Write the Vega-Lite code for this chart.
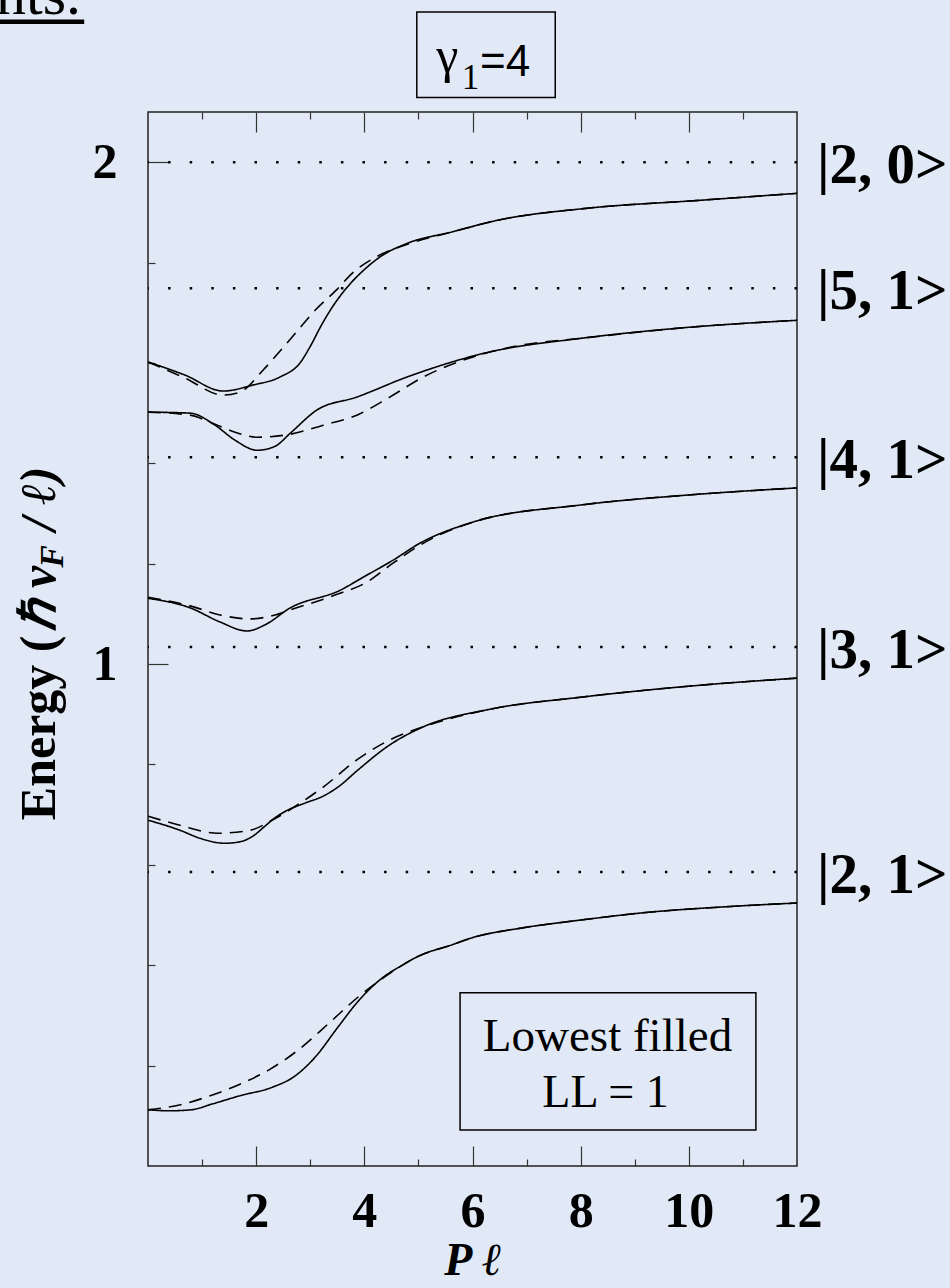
{
  "$schema": "https://vega.github.io/schema/vega-lite/v6.json",
  "autosize": {"type": "none"},
  "padding": {"left": 148, "top": 112, "right": 153, "bottom": 122},
  "width": 649,
  "height": 1054,
  "background": "#e0e9f5",
  "config": {
    "view": {"stroke": "#222", "strokeWidth": 1.5},
    "axis": {"grid": false, "domain": false, "tickColor": "#333", "tickWidth": 1.2}
  },
  "datasets": {
    "curves": [
      {"curve": "s1", "style": "solid", "x": 0, "y": 0.112},
      {"curve": "s1", "style": "solid", "x": 0.4, "y": 0.110},
      {"curve": "s1", "style": "solid", "x": 0.8, "y": 0.112},
      {"curve": "s1", "style": "solid", "x": 1.2, "y": 0.124},
      {"curve": "s1", "style": "solid", "x": 1.7, "y": 0.140},
      {"curve": "s1", "style": "solid", "x": 2.3, "y": 0.157},
      {"curve": "s1", "style": "solid", "x": 2.7, "y": 0.178},
      {"curve": "s1", "style": "solid", "x": 3.1, "y": 0.218},
      {"curve": "s1", "style": "solid", "x": 3.5, "y": 0.275},
      {"curve": "s1", "style": "solid", "x": 3.9, "y": 0.330},
      {"curve": "s1", "style": "solid", "x": 4.3, "y": 0.372},
      {"curve": "s1", "style": "solid", "x": 4.7, "y": 0.400},
      {"curve": "s1", "style": "solid", "x": 5.0, "y": 0.418},
      {"curve": "s1", "style": "solid", "x": 5.6, "y": 0.440},
      {"curve": "s1", "style": "solid", "x": 6.0, "y": 0.455},
      {"curve": "s1", "style": "solid", "x": 6.9, "y": 0.474},
      {"curve": "s1", "style": "solid", "x": 8.0, "y": 0.490},
      {"curve": "s1", "style": "solid", "x": 9.3, "y": 0.506},
      {"curve": "s1", "style": "solid", "x": 10.6, "y": 0.516},
      {"curve": "s1", "style": "solid", "x": 12, "y": 0.524},
      {"curve": "d1", "style": "dashed", "x": 0, "y": 0.112},
      {"curve": "d1", "style": "dashed", "x": 0.6, "y": 0.122},
      {"curve": "d1", "style": "dashed", "x": 1.15, "y": 0.140},
      {"curve": "d1", "style": "dashed", "x": 1.7, "y": 0.163},
      {"curve": "d1", "style": "dashed", "x": 2.26, "y": 0.193},
      {"curve": "d1", "style": "dashed", "x": 2.8, "y": 0.233},
      {"curve": "d1", "style": "dashed", "x": 3.35, "y": 0.285},
      {"curve": "d1", "style": "dashed", "x": 3.9, "y": 0.338},
      {"curve": "d1", "style": "dashed", "x": 4.5, "y": 0.386},
      {"curve": "d1", "style": "dashed", "x": 5.0, "y": 0.418},
      {"curve": "d1", "style": "dashed", "x": 5.6, "y": 0.440},
      {"curve": "d1", "style": "dashed", "x": 6.0, "y": 0.455},
      {"curve": "d1", "style": "dashed", "x": 6.9, "y": 0.474},
      {"curve": "d1", "style": "dashed", "x": 8.0, "y": 0.490},
      {"curve": "d1", "style": "dashed", "x": 9.3, "y": 0.506},
      {"curve": "d1", "style": "dashed", "x": 10.6, "y": 0.516},
      {"curve": "d1", "style": "dashed", "x": 12, "y": 0.524},
      {"curve": "s2", "style": "solid", "x": 0, "y": 0.689},
      {"curve": "s2", "style": "solid", "x": 0.59, "y": 0.669},
      {"curve": "s2", "style": "solid", "x": 0.96, "y": 0.653},
      {"curve": "s2", "style": "solid", "x": 1.42, "y": 0.643},
      {"curve": "s2", "style": "solid", "x": 1.7, "y": 0.646},
      {"curve": "s2", "style": "solid", "x": 1.95, "y": 0.658},
      {"curve": "s2", "style": "solid", "x": 2.15, "y": 0.676},
      {"curve": "s2", "style": "solid", "x": 2.35, "y": 0.694},
      {"curve": "s2", "style": "solid", "x": 2.6, "y": 0.710},
      {"curve": "s2", "style": "solid", "x": 2.9, "y": 0.723},
      {"curve": "s2", "style": "solid", "x": 3.24, "y": 0.737},
      {"curve": "s2", "style": "solid", "x": 3.55, "y": 0.758},
      {"curve": "s2", "style": "solid", "x": 3.86, "y": 0.787},
      {"curve": "s2", "style": "solid", "x": 4.47, "y": 0.839},
      {"curve": "s2", "style": "solid", "x": 5.09, "y": 0.875},
      {"curve": "s2", "style": "solid", "x": 6.32, "y": 0.910},
      {"curve": "s2", "style": "solid", "x": 8.0, "y": 0.934},
      {"curve": "s2", "style": "solid", "x": 10.0, "y": 0.956},
      {"curve": "s2", "style": "solid", "x": 12, "y": 0.972},
      {"curve": "d2", "style": "dashed", "x": 0, "y": 0.697},
      {"curve": "d2", "style": "dashed", "x": 0.59, "y": 0.679},
      {"curve": "d2", "style": "dashed", "x": 1.29, "y": 0.663},
      {"curve": "d2", "style": "dashed", "x": 1.89, "y": 0.669},
      {"curve": "d2", "style": "dashed", "x": 2.31, "y": 0.690},
      {"curve": "d2", "style": "dashed", "x": 2.8, "y": 0.722},
      {"curve": "d2", "style": "dashed", "x": 3.24, "y": 0.755},
      {"curve": "d2", "style": "dashed", "x": 3.86, "y": 0.809},
      {"curve": "d2", "style": "dashed", "x": 4.47, "y": 0.849},
      {"curve": "d2", "style": "dashed", "x": 5.09, "y": 0.875},
      {"curve": "d2", "style": "dashed", "x": 6.32, "y": 0.910},
      {"curve": "d2", "style": "dashed", "x": 8.0, "y": 0.934},
      {"curve": "d2", "style": "dashed", "x": 10.0, "y": 0.956},
      {"curve": "d2", "style": "dashed", "x": 12, "y": 0.972},
      {"curve": "s3", "style": "solid", "x": 0, "y": 1.131},
      {"curve": "s3", "style": "solid", "x": 0.78, "y": 1.112},
      {"curve": "s3", "style": "solid", "x": 1.33, "y": 1.084},
      {"curve": "s3", "style": "solid", "x": 1.83, "y": 1.066},
      {"curve": "s3", "style": "solid", "x": 2.16, "y": 1.078},
      {"curve": "s3", "style": "solid", "x": 2.63, "y": 1.112},
      {"curve": "s3", "style": "solid", "x": 3.55, "y": 1.147},
      {"curve": "s3", "style": "solid", "x": 4.01, "y": 1.175},
      {"curve": "s3", "style": "solid", "x": 4.53, "y": 1.207},
      {"curve": "s3", "style": "solid", "x": 5.03, "y": 1.241},
      {"curve": "s3", "style": "solid", "x": 6.01, "y": 1.283},
      {"curve": "s3", "style": "solid", "x": 8.0, "y": 1.317},
      {"curve": "s3", "style": "solid", "x": 10.0, "y": 1.337},
      {"curve": "s3", "style": "solid", "x": 12, "y": 1.351},
      {"curve": "d3", "style": "dashed", "x": 0, "y": 1.133},
      {"curve": "d3", "style": "dashed", "x": 0.78, "y": 1.116},
      {"curve": "d3", "style": "dashed", "x": 1.33, "y": 1.098},
      {"curve": "d3", "style": "dashed", "x": 1.89, "y": 1.090},
      {"curve": "d3", "style": "dashed", "x": 2.35, "y": 1.098},
      {"curve": "d3", "style": "dashed", "x": 2.63, "y": 1.108},
      {"curve": "d3", "style": "dashed", "x": 3.55, "y": 1.141},
      {"curve": "d3", "style": "dashed", "x": 4.01, "y": 1.161},
      {"curve": "d3", "style": "dashed", "x": 4.53, "y": 1.201},
      {"curve": "d3", "style": "dashed", "x": 5.03, "y": 1.237},
      {"curve": "d3", "style": "dashed", "x": 6.01, "y": 1.283},
      {"curve": "d3", "style": "dashed", "x": 8.0, "y": 1.317},
      {"curve": "d3", "style": "dashed", "x": 10.0, "y": 1.337},
      {"curve": "d3", "style": "dashed", "x": 12, "y": 1.351},
      {"curve": "s4", "style": "solid", "x": 0, "y": 1.502},
      {"curve": "s4", "style": "solid", "x": 0.78, "y": 1.500},
      {"curve": "s4", "style": "solid", "x": 1.24, "y": 1.476},
      {"curve": "s4", "style": "solid", "x": 1.61, "y": 1.446},
      {"curve": "s4", "style": "solid", "x": 2.02, "y": 1.426},
      {"curve": "s4", "style": "solid", "x": 2.35, "y": 1.434},
      {"curve": "s4", "style": "solid", "x": 2.63, "y": 1.460},
      {"curve": "s4", "style": "solid", "x": 3.12, "y": 1.506},
      {"curve": "s4", "style": "solid", "x": 3.86, "y": 1.532},
      {"curve": "s4", "style": "solid", "x": 4.79, "y": 1.572},
      {"curve": "s4", "style": "solid", "x": 6.32, "y": 1.622},
      {"curve": "s4", "style": "solid", "x": 8.0, "y": 1.649},
      {"curve": "s4", "style": "solid", "x": 10.0, "y": 1.671},
      {"curve": "s4", "style": "solid", "x": 12, "y": 1.685},
      {"curve": "d4", "style": "dashed", "x": 0, "y": 1.502},
      {"curve": "d4", "style": "dashed", "x": 0.78, "y": 1.496},
      {"curve": "d4", "style": "dashed", "x": 1.15, "y": 1.482},
      {"curve": "d4", "style": "dashed", "x": 1.61, "y": 1.462},
      {"curve": "d4", "style": "dashed", "x": 2.02, "y": 1.452},
      {"curve": "d4", "style": "dashed", "x": 2.63, "y": 1.458},
      {"curve": "d4", "style": "dashed", "x": 3.24, "y": 1.476},
      {"curve": "d4", "style": "dashed", "x": 3.86, "y": 1.496},
      {"curve": "d4", "style": "dashed", "x": 4.47, "y": 1.532},
      {"curve": "d4", "style": "dashed", "x": 5.09, "y": 1.572},
      {"curve": "d4", "style": "dashed", "x": 6.01, "y": 1.612},
      {"curve": "d4", "style": "dashed", "x": 6.88, "y": 1.635},
      {"curve": "d4", "style": "dashed", "x": 8.0, "y": 1.649},
      {"curve": "d4", "style": "dashed", "x": 10.0, "y": 1.671},
      {"curve": "d4", "style": "dashed", "x": 12, "y": 1.685},
      {"curve": "s5", "style": "solid", "x": 0, "y": 1.602},
      {"curve": "s5", "style": "solid", "x": 0.68, "y": 1.576},
      {"curve": "s5", "style": "solid", "x": 1.39, "y": 1.544},
      {"curve": "s5", "style": "solid", "x": 1.94, "y": 1.556},
      {"curve": "s5", "style": "solid", "x": 2.44, "y": 1.572},
      {"curve": "s5", "style": "solid", "x": 2.81, "y": 1.600},
      {"curve": "s5", "style": "solid", "x": 3.0, "y": 1.633},
      {"curve": "s5", "style": "solid", "x": 3.2, "y": 1.674},
      {"curve": "s5", "style": "solid", "x": 3.4, "y": 1.710},
      {"curve": "s5", "style": "solid", "x": 3.6, "y": 1.740},
      {"curve": "s5", "style": "solid", "x": 3.8, "y": 1.765},
      {"curve": "s5", "style": "solid", "x": 4.0, "y": 1.786},
      {"curve": "s5", "style": "solid", "x": 4.3, "y": 1.812},
      {"curve": "s5", "style": "solid", "x": 4.81, "y": 1.839},
      {"curve": "s5", "style": "solid", "x": 5.62, "y": 1.861},
      {"curve": "s5", "style": "solid", "x": 6.45, "y": 1.884},
      {"curve": "s5", "style": "solid", "x": 8.1, "y": 1.908},
      {"curve": "s5", "style": "solid", "x": 10.2, "y": 1.924},
      {"curve": "s5", "style": "solid", "x": 12, "y": 1.938},
      {"curve": "d5", "style": "dashed", "x": 0, "y": 1.602},
      {"curve": "d5", "style": "dashed", "x": 0.68, "y": 1.570},
      {"curve": "d5", "style": "dashed", "x": 1.39, "y": 1.536},
      {"curve": "d5", "style": "dashed", "x": 1.70, "y": 1.542},
      {"curve": "d5", "style": "dashed", "x": 2.13, "y": 1.586},
      {"curve": "d5", "style": "dashed", "x": 2.5, "y": 1.631},
      {"curve": "d5", "style": "dashed", "x": 2.74, "y": 1.661},
      {"curve": "d5", "style": "dashed", "x": 3.09, "y": 1.705},
      {"curve": "d5", "style": "dashed", "x": 3.48, "y": 1.745},
      {"curve": "d5", "style": "dashed", "x": 3.81, "y": 1.782},
      {"curve": "d5", "style": "dashed", "x": 4.23, "y": 1.812},
      {"curve": "d5", "style": "dashed", "x": 4.81, "y": 1.837},
      {"curve": "d5", "style": "dashed", "x": 5.62, "y": 1.861},
      {"curve": "d5", "style": "dashed", "x": 6.45, "y": 1.884},
      {"curve": "d5", "style": "dashed", "x": 8.1, "y": 1.908},
      {"curve": "d5", "style": "dashed", "x": 10.2, "y": 1.924},
      {"curve": "d5", "style": "dashed", "x": 12, "y": 1.938}
    ],
    "levels": [
      {"E": 2.0, "label": "|2, 0>"},
      {"E": 1.749, "label": "|5, 1>"},
      {"E": 1.412, "label": "|4, 1>"},
      {"E": 1.034, "label": "|3, 1>"},
      {"E": 0.586, "label": "|2, 1>"}
    ]
  },
  "resolve": {"axis": {"x": "independent", "y": "independent"}},
  "layer": [
    {
      "data": {"name": "curves"},
      "mark": {"type": "line", "interpolate": "monotone", "strokeWidth": 1.6, "color": "black"},
      "encoding": {
        "x": {"field": "x", "type": "quantitative",
          "scale": {"domain": [0, 12], "nice": false, "zero": false},
          "axis": {"orient": "bottom", "values": [2, 4, 6, 8, 10, 12], "ticks": false, "domain": false, "grid": false,
            "labelFont": "Liberation Serif", "labelFontWeight": "bold", "labelFontSize": 50, "labelColor": "black",
            "labelPadding": 60, "labelBaseline": "alphabetic", "labelFlush": false, "labelOverlap": false,
            "title": "P  ℓ", "titleFont": "Liberation Serif", "titleFontStyle": "italic", "titleFontWeight": "bold",
            "titleFontSize": 46, "titleColor": "black", "titlePadding": 2}},
        "y": {"field": "y", "type": "quantitative",
          "scale": {"domain": [0, 2.1], "nice": false, "zero": false},
          "axis": {"orient": "left", "values": [1, 2], "ticks": false, "domain": false, "grid": false,
            "labelFont": "Liberation Serif", "labelFontWeight": "bold", "labelFontSize": 50, "labelColor": "black",
            "labelPadding": 31, "labelFlush": false, "labelOverlap": false, "title": null}},
        "detail": {"field": "curve", "type": "nominal"},
        "strokeDash": {"field": "style", "type": "nominal",
          "scale": {"domain": ["solid", "dashed"], "range": [[1, 0], [13, 8]]}, "legend": null}
      }
    },
    {
      "data": {"name": "levels"},
      "mark": {"type": "rule", "color": "black", "strokeWidth": 2.5, "strokeDash": [2.5, 19.1]},
      "encoding": {
        "y": {"field": "E", "type": "quantitative",
          "axis": {"orient": "left", "values": [0.2, 0.4, 0.6, 0.8, 1.2, 1.4, 1.6, 1.8], "labels": false,
            "ticks": true, "tickSize": -7, "domain": false, "title": null}}
      }
    },
    {
      "data": {"name": "levels"},
      "mark": {"type": "text", "font": "Liberation Serif", "fontWeight": "bold", "fontSize": 57,
        "align": "left", "baseline": "alphabetic", "dx": 20, "dy": 21, "color": "black"},
      "encoding": {
        "x": {"datum": 12, "type": "quantitative",
          "axis": {"orient": "bottom", "values": [1, 3, 5, 7, 9, 11], "labels": false, "ticks": true,
            "tickSize": -7, "domain": false, "title": null}},
        "y": {"field": "E", "type": "quantitative",
          "axis": {"orient": "left", "values": [1, 2], "labels": false, "ticks": true,
            "tickSize": -20, "domain": false, "title": null}},
        "text": {"field": "label"}
      }
    },
    {
      "data": {"values": [{}]},
      "mark": {"type": "rect", "fill": "transparent", "stroke": "black", "strokeWidth": 1.5},
      "encoding": {
        "x": {"datum": 4.97, "type": "quantitative",
          "axis": {"orient": "top", "values": [2, 4, 6, 8, 10], "labels": false, "ticks": true,
            "tickSize": -20, "domain": false, "title": null}},
        "x2": {"datum": 7.53},
        "y": {"datum": 2.299, "type": "quantitative", "axis": null},
        "y2": {"datum": 2.129}
      }
    },
    {
      "data": {"values": [{}]},
      "mark": {"type": "text", "font": "Liberation Serif", "fontSize": 50, "align": "left",
        "baseline": "alphabetic", "color": "black", "text": "γ"},
      "encoding": {
        "x": {"datum": 5.33, "type": "quantitative",
          "axis": {"orient": "top", "values": [1, 3, 5, 7, 9, 11], "labels": false, "ticks": true,
            "tickSize": -7, "domain": false, "title": null}},
        "y": {"datum": 2.179, "type": "quantitative", "axis": null}
      }
    },
    {
      "data": {"values": [{}]},
      "mark": {"type": "text", "font": "Liberation Serif", "fontSize": 35, "align": "left",
        "baseline": "alphabetic", "color": "black", "text": "1"},
      "encoding": {
        "x": {"datum": 5.80, "type": "quantitative", "axis": null},
        "y": {"datum": 2.145, "type": "quantitative", "axis": null}
      }
    },
    {
      "data": {"values": [{}]},
      "mark": {"type": "text", "font": "Liberation Sans", "fontSize": 44, "align": "left",
        "baseline": "alphabetic", "color": "black", "text": "=4"},
      "encoding": {
        "x": {"datum": 6.14, "type": "quantitative", "axis": null},
        "y": {"datum": 2.171, "type": "quantitative", "axis": null}
      }
    },
    {
      "data": {"values": [{}]},
      "mark": {"type": "rect", "fill": "transparent", "stroke": "black", "strokeWidth": 1.5},
      "encoding": {
        "x": {"datum": 5.77, "type": "quantitative",
          "axis": {"orient": "bottom", "values": [2, 4, 6, 8, 10], "labels": false, "ticks": true,
            "tickSize": -20, "domain": false, "title": null}},
        "x2": {"datum": 11.24},
        "y": {"datum": 0.345, "type": "quantitative", "axis": null},
        "y2": {"datum": 0.0717}
      }
    },
    {
      "data": {"values": [{}]},
      "mark": {"type": "text", "font": "Liberation Serif", "fontSize": 47, "align": "center",
        "baseline": "alphabetic", "color": "black", "text": "Lowest filled"},
      "encoding": {
        "x": {"datum": 8.496, "type": "quantitative", "axis": null},
        "y": {"datum": 0.2297, "type": "quantitative", "axis": null}
      }
    },
    {
      "data": {"values": [{}]},
      "mark": {"type": "text", "font": "Liberation Serif", "fontSize": 46, "align": "center",
        "baseline": "alphabetic", "color": "black", "text": "LL = 1"},
      "encoding": {
        "x": {"datum": 8.46, "type": "quantitative", "axis": null},
        "y": {"datum": 0.118, "type": "quantitative", "axis": null}
      }
    },
    {
      "data": {"values": [{}]},
      "mark": {"type": "text", "font": "Liberation Serif", "fontSize": 60, "align": "right",
        "baseline": "alphabetic", "color": "black", "text": "nts."},
      "encoding": {
        "x": {"datum": -1.239, "type": "quantitative", "axis": null},
        "y": {"datum": 2.2958, "type": "quantitative", "axis": null}
      }
    },
    {
      "data": {"values": [{}]},
      "mark": {"type": "rule", "color": "black", "strokeWidth": 4.5},
      "encoding": {
        "x": {"datum": -2.74, "type": "quantitative", "axis": null},
        "x2": {"datum": -1.18},
        "y": {"datum": 2.2799, "type": "quantitative", "axis": null}
      }
    },
    {
      "data": {"values": [{}]},
      "mark": {"type": "text", "font": "Liberation Serif", "fontWeight": "bold", "fontSize": 50, "angle": 270,
        "align": "left", "baseline": "alphabetic", "color": "black", "text": "Energy ("},
      "encoding": {
        "x": {"datum": -1.72, "type": "quantitative", "axis": null},
        "y": {"datum": 0.689, "type": "quantitative", "axis": null}
      }
    },
    {
      "data": {"values": [{}]},
      "mark": {"type": "text", "font": "Liberation Serif", "fontWeight": "bold", "fontStyle": "italic", "fontSize": 50, "angle": 270,
        "align": "left", "baseline": "alphabetic", "color": "black", "text": "ℏ v"},
      "encoding": {
        "x": {"datum": -1.72, "type": "quantitative", "axis": null},
        "y": {"datum": 1.065, "type": "quantitative", "axis": null}
      }
    },
    {
      "data": {"values": [{}]},
      "mark": {"type": "text", "font": "Liberation Serif", "fontWeight": "bold", "fontStyle": "italic", "fontSize": 34, "angle": 270,
        "align": "left", "baseline": "alphabetic", "color": "black", "text": "F"},
      "encoding": {
        "x": {"datum": -1.572, "type": "quantitative", "axis": null},
        "y": {"datum": 1.192, "type": "quantitative", "axis": null}
      }
    },
    {
      "data": {"values": [{}]},
      "mark": {"type": "text", "font": "Liberation Serif", "fontWeight": "bold", "fontStyle": "italic", "fontSize": 50, "angle": 270,
        "align": "left", "baseline": "alphabetic", "color": "black", "text": "/ ℓ)"},
      "encoding": {
        "x": {"datum": -1.72, "type": "quantitative", "axis": null},
        "y": {"datum": 1.265, "type": "quantitative", "axis": null}
      }
    }
  ]
}
